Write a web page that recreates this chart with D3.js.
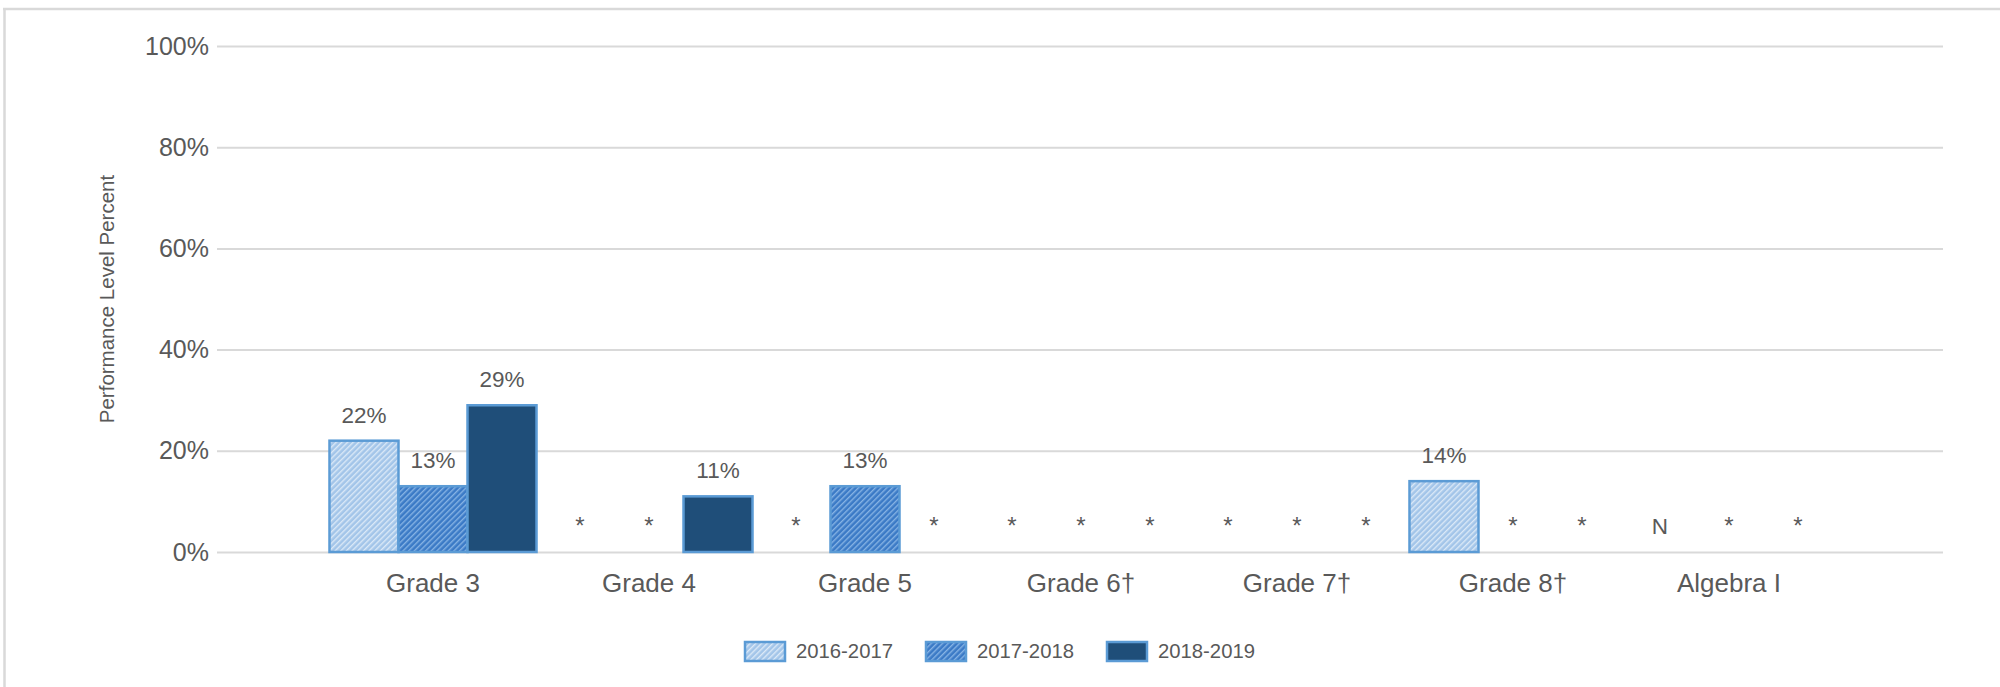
<!DOCTYPE html>
<html>
<head>
<meta charset="utf-8">
<script src="https://cdn.jsdelivr.net/npm/d3@7"></script>
<style>
  body { margin: 0; background: #fff; }
  text { font-family: "Liberation Sans", Arial, sans-serif; fill: #595959; }
</style>
</head>
<body>
<div id="chart"></div>
<script>
// chart data
const categories = ["Grade 3", "Grade 4", "Grade 5", "Grade 6\u2020", "Grade 7\u2020", "Grade 8\u2020", "Algebra I"];
const years = ["2016-2017", "2017-2018", "2018-2019"];
// numbers are percents, strings are suppression marks shown instead of a bar
const values2016 = [22, "*", "*", "*", "*", 14, "N"];
const values2017 = [13, "*", 13, "*", "*", "*", "*"];
const values2018 = [29, 11, "*", "*", "*", "*", "*"];
const yTicks = [0, 20, 40, 60, 80, 100];

const width = 2000, height = 687;
const series = [values2016, values2017, values2018];

const svg = d3.select("#chart").append("svg")
    .attr("width", width)
    .attr("height", height);

// fill patterns for the hatched years
const defs = svg.append("defs");
function hatch(id, base, stripe) {
    const p = defs.append("pattern")
        .attr("id", id)
        .attr("patternUnits", "userSpaceOnUse")
        .attr("width", 4)
        .attr("height", 4)
        .attr("patternTransform", "rotate(45)");
    p.append("rect").attr("width", 4).attr("height", 4).attr("fill", base);
    p.append("rect").attr("width", 1.4).attr("height", 4).attr("fill", stripe);
}
hatch("hatch-light", "#a3c5e9", "#dbe9f7");
hatch("hatch-mid", "#3b7ac6", "#86b3e4");
const fills = ["url(#hatch-light)", "url(#hatch-mid)", "#1f4e79"];
const edge = "#5b9bd5";

// outer frame (top and left only)
svg.append("line").attr("x1", 3).attr("x2", width).attr("y1", 9).attr("y2", 9)
    .attr("stroke", "#d9d9d9").attr("stroke-width", 2.5);
svg.append("line").attr("x1", 4.5).attr("x2", 4.5).attr("y1", 8).attr("y2", height)
    .attr("stroke", "#d9d9d9").attr("stroke-width", 2.5);

// scales
const y = d3.scaleLinear().domain([0, 100]).range([552, 46]);
const x = d3.scaleBand().domain(categories).range([325, 1837]);
const x1 = d3.scaleBand().domain(years).range([0, x.bandwidth()]).paddingOuter(0.065);

// y axis with gridlines
const gridLeft = 217, gridRight = 1943;
const yAxis = svg.append("g")
    .attr("transform", `translate(${gridLeft},0)`)
    .call(d3.axisLeft(y)
        .tickValues(yTicks)
        .tickSize(-(gridRight - gridLeft))
        .tickSizeOuter(0)
        .tickPadding(8)
        .tickFormat(d => d + "%"));
yAxis.select(".domain").remove();
yAxis.selectAll(".tick line").attr("stroke", "#d9d9d9").attr("stroke-width", 2);
yAxis.selectAll(".tick text")
    .style("font-size", "25px")
    .attr("fill", "#595959");

// y axis title
svg.append("text")
    .attr("transform", `translate(107,${(y(0) + y(100)) / 2}) rotate(-90)`)
    .attr("text-anchor", "middle")
    .attr("dy", "0.35em")
    .style("font-size", "20.5px")
    .text("Performance Level Percent");

// category labels
svg.append("g").selectAll("text")
    .data(categories)
    .enter().append("text")
    .attr("x", d => x(d) + x.bandwidth() / 2)
    .attr("y", 592)
    .attr("text-anchor", "middle")
    .style("font-size", "26px")
    .text(d => d);

// bars and labels
categories.forEach((cat, i) => {
    const g = svg.append("g").attr("transform", `translate(${x(cat)},0)`);
    years.forEach((yr, j) => {
        const v = series[j][i];
        const cx = x1(yr) + x1.bandwidth() / 2;
        if (typeof v === "number") {
            g.append("rect")
                .attr("x", x1(yr))
                .attr("y", y(v))
                .attr("width", x1.bandwidth())
                .attr("height", y(0) - y(v))
                .attr("fill", fills[j])
                .attr("stroke", edge)
                .attr("stroke-width", 2.5);
            g.append("text")
                .attr("x", cx)
                .attr("y", y(v) - 18)
                .attr("text-anchor", "middle")
                .style("font-size", "22.5px")
                .text(v + "%");
        } else {
            g.append("text")
                .attr("x", cx)
                .attr("y", y(0) - 18)
                .attr("text-anchor", "middle")
                .style("font-size", v === "N" ? "22.5px" : "24px")
                .text(v);
        }
    });
});

// legend
const legend = svg.append("g").attr("transform", "translate(745,642)");
years.forEach((yr, j) => {
    const item = legend.append("g").attr("transform", `translate(${j * 181},0)`);
    item.append("rect")
        .attr("width", 40)
        .attr("height", 19)
        .attr("fill", fills[j])
        .attr("stroke", edge)
        .attr("stroke-width", 2.5);
    item.append("text")
        .attr("x", 51)
        .attr("y", 16)
        .style("font-size", "20.3px")
        .text(yr);
});
</script>
</body>
</html>
